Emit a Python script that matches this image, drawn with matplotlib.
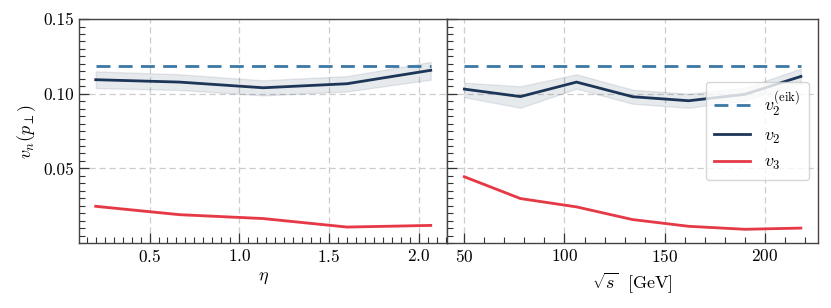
import matplotlib
matplotlib.use("Agg")
import matplotlib.pyplot as plt
from matplotlib.ticker import MultipleLocator

plt.rcParams.update({
    "font.family": "serif",
    "font.serif": ["cmr10", "DejaVu Serif"],
    "mathtext.fontset": "cm",
    "axes.formatter.use_mathtext": True,
    "font.size": 12,
})

# ---- data ----
eta = [0.2, 0.667, 1.133, 1.6, 2.067]
eta_v2 = [0.1094, 0.1078, 0.1040, 0.1067, 0.1157]
eta_v2_lo = [0.1038, 0.1025, 0.0989, 0.1015, 0.1094]
eta_v2_hi = [0.1150, 0.1130, 0.1090, 0.1118, 0.1213]
eta_v3 = [0.0246, 0.0190, 0.0164, 0.0107, 0.0118]
eta_v3_err = [0.0008, 0.0007, 0.0007, 0.0006, 0.0006]

sqrts = [50, 78, 106, 134, 162, 190, 218]
s_v2 = [0.1031, 0.0981, 0.1078, 0.0980, 0.0953, 0.0996, 0.1116]
s_v2_lo = [0.0977, 0.0906, 0.1034, 0.0933, 0.0906, 0.0955, 0.1067]
s_v2_hi = [0.1074, 0.1050, 0.1130, 0.1027, 0.1000, 0.1040, 0.1168]
s_v3 = [0.0444, 0.0298, 0.0242, 0.0157, 0.0112, 0.0092, 0.0100]
s_v3_err = [0.0009, 0.0007, 0.0006, 0.0005, 0.0005, 0.0004, 0.0004]

v2_eik = 0.1186

c_eik = "#3b78a3"
c_v2 = "#1d3557"
c_v3 = "#e63946"

fig = plt.figure(figsize=(8.31, 3.08), dpi=100)
ax1 = fig.add_axes([0.095, 0.211, 0.4435, 0.727])
ax2 = fig.add_axes([0.5385, 0.211, 0.4455, 0.727], sharey=ax1)


def draw(ax, x, v2, lo, hi, v3, v3e):
    ax.plot([x[0], x[-1]], [v2_eik, v2_eik], ls=(0, (5, 3)), color=c_eik, lw=2,
            label=r"$v_2^{(\mathrm{eik})}$")
    ax.fill_between(x, lo, hi, color=c_v2, alpha=0.1, lw=1)
    ax.plot(x, v2, color=c_v2, lw=2, label=r"$v_2$")
    ax.fill_between(x, [a - b for a, b in zip(v3, v3e)], [a + b for a, b in zip(v3, v3e)],
                    color=c_v3, alpha=0.2, lw=0)
    ax.plot(x, v3, color=c_v3, lw=2, label=r"$v_3$")
    ax.grid(True, ls=(0, (5, 3)), color="#cccccc", lw=0.9)
    ax.set_axisbelow(True)
    ax.tick_params(which="both", direction="in", top=False, right=False, colors="#333333",
                   labelcolor="black", labelsize=12.5)
    ax.tick_params(which="major", length=7, width=0.9)
    ax.tick_params(which="minor", length=4, width=0.8)
    for s in ax.spines.values():
        s.set_color("#444444")
        s.set_linewidth(1.0)


draw(ax1, eta, eta_v2, eta_v2_lo, eta_v2_hi, eta_v3, eta_v3_err)
draw(ax2, sqrts, s_v2, s_v2_lo, s_v2_hi, s_v3, s_v3_err)

ax1.set_ylim(0.0, 0.15)
ax1.set_yticks([0.05, 0.10, 0.15])
ax1.yaxis.set_minor_locator(MultipleLocator(0.005))
ax1.set_yticklabels(["0.05", "0.10", "0.15"])
ax1.xaxis.set_major_locator(MultipleLocator(0.5))
ax1.xaxis.set_minor_locator(MultipleLocator(0.05))
ax2.xaxis.set_major_locator(MultipleLocator(50))
ax2.xaxis.set_minor_locator(MultipleLocator(10))
ax2.tick_params(labelleft=False)

ax1.set_ylabel(r"$v_n(p_\perp)$", fontsize=13)
ax1.set_xlabel(r"$\eta$", fontsize=13)
ax2.set_xlabel(r"$\sqrt{s}\ \ [\mathrm{GeV}]$", fontsize=13)

leg = ax2.legend(loc="center right", fontsize=13, framealpha=0.8, edgecolor="#cccccc",
                 handlelength=2.0, borderpad=0.45, labelspacing=0.5)

fig.savefig("out.png", dpi=100)
